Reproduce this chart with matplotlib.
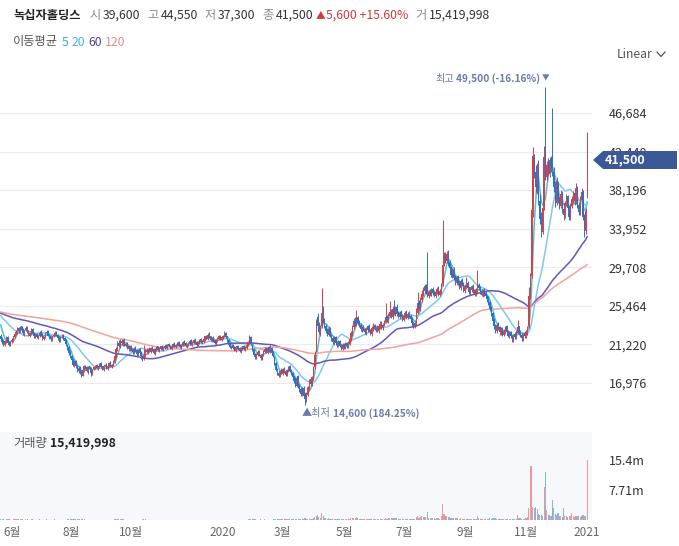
import numpy as np
import pandas as pd
import matplotlib
matplotlib.use('Agg')
import matplotlib.pyplot as plt
from matplotlib.patches import Polygon
from matplotlib.lines import Line2D

plt.rcParams['font.family'] = ['Noto Sans CJK KR', 'DejaVu Sans']

# ---------------- data (prices in units of 100 KRW) ----------------
# 120 closes before the visible window (only used for the moving averages)
pre_closes = [
    252, 255, 258, 254, 251, 249, 253, 256, 252, 248, 246, 250, 254, 257, 253, 249, 247, 251, 255, 252,
    249, 246, 243, 247, 251, 248, 245, 242, 246, 250, 253, 249, 246, 244, 248, 252, 255, 251, 247, 245,
    249, 253, 250, 246, 243, 247, 251, 254, 250, 246, 244, 248, 252, 249, 245, 242, 246, 250, 247, 244,
    248, 252, 255, 251, 247, 244, 248, 251, 254, 250, 246, 243, 247, 250, 253, 249, 245, 242, 246, 249,
    252, 248, 245, 249, 253, 250, 246, 243, 247, 251, 248, 244, 241, 245, 249, 252, 248, 245, 243, 247,
    250, 253, 249, 246, 248, 251, 247, 244, 246, 249, 252, 248, 245, 243, 246, 244, 241, 239, 236, 234,
]

opens = [
    222, 219, 216, 212, 215, 220, 215, 211, 216, 216, 220,
    225, 225, 230, 226, 232, 229, 224, 228, 231, 227, 222, 224, 229, 225, 220,
    224, 219, 221, 226, 224, 218, 220, 225, 227, 223, 221, 217, 222, 222, 226, 223, 220, 216, 221, 223, 219, 217,
    212, 209, 204, 200, 196, 189, 194, 189, 183, 187, 182,
    178, 183, 189, 187, 182, 188, 186,
    180, 185, 186, 190, 185, 187, 192, 188, 184, 189, 191, 185, 188, 193, 187, 189,
    193, 198, 206, 214, 210,
    216, 213, 217, 211, 214,
    210, 206, 211, 207, 203, 209, 206, 201, 207, 204,
    200, 196, 199,
    206, 203, 208, 204, 209, 207, 202, 206, 210, 205, 207, 211, 206,
    208, 212, 208, 213, 211, 207, 210, 214, 209, 211, 215, 212, 208, 211, 216, 214, 209, 211, 213, 217, 212, 214, 218, 215, 211, 214, 218,
    214, 215, 217, 222, 218, 224, 221, 216, 220, 217, 213, 216, 218, 222, 217, 219, 221, 225, 221,
    217, 213, 208, 212, 209, 205, 208, 211, 208, 204, 207, 211, 206, 208, 211,
    214, 220,
    212, 207, 202, 197, 201, 205, 201, 196, 200, 204, 208, 203,
    209, 204, 208, 204,
    198, 192, 185, 181, 177, 184, 180, 186, 183, 178, 183, 188, 184, 181, 177,
    174, 167, 177, 167, 163, 157, 164, 158,
    150, 157, 164, 174, 168, 175, 187,
    205, 242, 234, 225, 232,
    250, 239, 233, 228, 223, 230, 223, 219, 214, 220, 215,
    211, 216, 212, 207, 213, 208, 214, 209, 213,
    217, 224, 231, 239, 234, 242, 237, 234,
    228, 232, 229, 225, 228, 233, 228, 224, 229, 234, 228, 232, 227, 231, 236, 230,
    233, 237, 243, 238, 244, 249, 242, 252, 246, 253,
    247, 242, 248, 245, 239, 243, 248, 241, 247, 244, 241, 237,
    232, 235, 247, 259, 251, 261,
    267, 271, 277, 271, 265, 271, 267, 273, 270, 265, 269, 274, 267,
    270, 279,
    302, 311, 304, 313,
    303, 297, 288, 294, 286, 280,
    287, 281, 274, 283, 279, 271, 275, 280,
    275, 269, 272, 277, 272, 267, 271,
    278, 275, 271, 266, 272, 269, 266,
    263, 259, 252, 247, 239, 233, 227,
    235, 231, 225, 230, 223, 226, 232, 227, 221, 226, 222,
    217, 224, 219, 225, 232, 226, 223, 218, 225, 220, 225,
    232, 268, 288, 362,
    418, 402, 384, 406, 370, 352, 336,
    364, 428, 396, 411, 400, 416, 412,
    402, 386, 368,
    390, 373, 364, 379, 361, 354, 367, 375, 363, 351, 365,
    371, 379, 369, 385, 366, 357, 371,
    381, 353, 337,
    396,
]

highs = [
    224, 220, 218, 217, 221, 221, 216, 216, 219, 222, 226,
    228, 231, 231, 233, 233, 230, 228, 232, 232, 228, 226, 230, 230, 226, 225,
    225, 223, 227, 228, 225, 222, 226, 228, 228, 224, 222, 222, 225, 227, 227, 224, 221, 221, 224, 224, 220, 218,
    213, 210, 206, 201, 197, 195, 195, 190, 188, 188, 184,
    185, 190, 190, 188, 188, 189, 187,
    185, 189, 190, 191, 189, 192, 193, 189, 189, 191, 192, 190, 193, 194, 191, 195,
    200, 209, 216, 217, 218,
    218, 218, 219, 215, 215,
    211, 211, 212, 208, 209, 210, 207, 207, 208, 205,
    201, 212, 207,
    208, 208, 209, 209, 210, 208, 208, 211, 211, 209, 211, 212, 210,
    212, 213, 213, 214, 212, 212, 214, 215, 213, 215, 216, 213, 213, 216, 217, 215, 213, 215, 217, 218, 216, 218, 219, 216, 216, 218, 219,
    217, 219, 222, 223, 225, 226, 222, 220, 221, 218, 218, 220, 223, 223, 221, 223, 227, 226, 222,
    218, 214, 212, 213, 210, 210, 211, 212, 209, 209, 211, 212, 210, 213, 216,
    223, 221,
    213, 208, 203, 203, 206, 206, 202, 202, 206, 209, 209, 209,
    210, 212, 209, 205,
    199, 193, 186, 182, 184, 186, 186, 187, 184, 185, 189, 190, 185, 182, 178,
    176, 177, 179, 169, 165, 165, 166, 159,
    160, 167, 174, 175, 178, 188, 205,
    240, 247, 237, 234, 274,
    255, 241, 235, 230, 232, 231, 224, 221, 221, 221, 216,
    217, 217, 213, 214, 214, 215, 215, 216, 220,
    227, 234, 241, 242, 250, 244, 239, 236,
    233, 234, 230, 231, 234, 235, 229, 232, 236, 235, 233, 234, 233, 238, 238, 236,
    239, 258, 245, 247, 260, 251, 254, 261, 255, 257,
    249, 249, 250, 246, 245, 249, 250, 248, 249, 246, 242, 238,
    238, 252, 270, 261, 264, 272,
    275, 279, 279, 314, 272, 273, 274, 275, 272, 271, 275, 276, 273,
    280, 349,
    314, 314, 315, 316,
    305, 299, 296, 297, 289, 288,
    289, 283, 284, 285, 281, 278, 286, 282,
    277, 275, 278, 279, 273, 274, 294,
    280, 277, 273, 273, 274, 271, 267,
    265, 261, 254, 248, 241, 235, 236,
    237, 232, 231, 231, 229, 233, 234, 228, 227, 227, 223,
    224, 226, 228, 239, 233, 228, 225, 225, 227, 228, 232,
    275, 291, 372, 429,
    422, 410, 412, 415, 378, 358, 366,
    430, 495, 414, 417, 418, 420, 472,
    407, 392, 396,
    392, 376, 382, 381, 364, 370, 378, 377, 366, 368, 376,
    381, 382, 390, 387, 369, 375, 384,
    382, 356, 362,
    445.5,
]

lows = [
    217, 213, 211, 210, 214, 213, 210, 210, 214, 215, 219,
    223, 224, 225, 225, 227, 223, 222, 227, 225, 221, 220, 223, 223, 219, 219,
    219, 218, 220, 222, 217, 217, 219, 224, 221, 218, 216, 216, 220, 221, 221, 217, 215, 215, 219, 217, 215, 211,
    206, 201, 197, 193, 188, 187, 186, 182, 181, 180, 176,
    177, 182, 185, 182, 180, 184, 177,
    179, 184, 185, 185, 184, 186, 186, 184, 183, 188, 185, 184, 187, 187, 186, 188,
    192, 197, 205, 209, 208,
    212, 211, 211, 209, 207,
    205, 205, 205, 202, 202, 204, 200, 200, 202, 196,
    194, 195, 198,
    203, 202, 204, 203, 205, 202, 201, 205, 205, 204, 206, 206, 205,
    207, 208, 207, 209, 207, 206, 209, 209, 208, 210, 210, 208, 207, 210, 212, 209, 208, 210, 212, 212, 211, 213, 213, 211, 210, 213, 214,
    213, 214, 216, 218, 217, 219, 216, 215, 215, 213, 212, 215, 217, 217, 216, 218, 220, 219, 215,
    211, 208, 207, 207, 205, 204, 207, 206, 204, 203, 206, 206, 205, 207, 210,
    213, 212,
    205, 200, 196, 196, 200, 199, 195, 195, 199, 203, 203, 202,
    204, 203, 202, 198,
    190, 183, 179, 176, 176, 180, 179, 181, 178, 177, 182, 182, 179, 175, 170,
    165, 165, 164, 160, 155, 155, 153, 146,
    149, 155, 162, 167, 166, 173, 185,
    204, 230, 224, 222, 230,
    236, 230, 225, 221, 222, 220, 216, 213, 212, 212, 209,
    209, 209, 206, 206, 207, 207, 208, 208, 212,
    216, 222, 229, 233, 232, 234, 231, 227,
    226, 227, 224, 223, 226, 226, 223, 222, 227, 228, 226, 226, 225, 229, 229, 228,
    232, 236, 237, 236, 242, 241, 240, 245, 244, 244,
    241, 240, 242, 238, 238, 241, 240, 240, 241, 238, 233, 230,
    230, 234, 246, 250, 249, 259,
    265, 269, 268, 264, 263, 266, 265, 267, 264, 263, 268, 266, 265,
    268, 276,
    299, 302, 302, 299,
    292, 286, 285, 283, 278, 278,
    278, 273, 272, 276, 270, 269, 273, 272,
    268, 267, 270, 269, 265, 265, 269,
    272, 268, 265, 264, 266, 263, 259,
    256, 249, 243, 236, 229, 225, 225,
    228, 223, 223, 222, 221, 224, 224, 220, 219, 219, 215,
    215, 218, 218, 224, 223, 220, 216, 216, 219, 219, 223,
    230, 262, 285, 352,
    395, 380, 378, 366, 345, 330, 334,
    360, 393, 392, 398, 396, 402, 398,
    380, 363, 366,
    368, 361, 362, 357, 349, 351, 364, 358, 349, 349, 362,
    368, 366, 367, 362, 355, 355, 369,
    349, 330, 334,
    373,
]

closes = [
    218, 215, 213, 216, 219, 214, 212, 215, 217, 221, 224,
    226, 229, 227, 231, 228, 225, 227, 230, 226, 223, 225, 228, 224, 221, 223,
    220, 222, 225, 223, 219, 221, 224, 226, 222, 220, 218, 221, 223, 225, 222, 219, 217, 220, 222, 218, 216, 213,
    208, 203, 199, 195, 190, 193, 188, 184, 186, 181, 179,
    184, 188, 186, 183, 187, 185, 181,
    184, 187, 189, 186, 188, 191, 187, 185, 188, 190, 186, 189, 192, 188, 190, 193,
    199, 207, 213, 211, 215,
    214, 216, 212, 213, 209,
    207, 210, 206, 204, 208, 205, 202, 206, 203, 199,
    197, 201, 205,
    204, 207, 205, 208, 206, 203, 207, 209, 206, 208, 210, 207, 209,
    211, 209, 212, 210, 208, 211, 213, 210, 212, 214, 211, 209, 212, 215, 213, 210, 212, 214, 216, 213, 215, 217, 214, 212, 215, 217, 215,
    216, 218, 221, 219, 223, 220, 217, 219, 216, 214, 217, 219, 221, 218, 220, 222, 224, 220, 216,
    212, 209, 211, 208, 206, 209, 210, 207, 205, 208, 210, 207, 209, 212, 215,
    219, 213,
    206, 201, 198, 202, 204, 200, 197, 201, 205, 207, 204, 208,
    205, 207, 203, 199,
    191, 184, 180, 178, 183, 181, 185, 182, 179, 184, 187, 183, 180, 176, 172,
    168, 175, 166, 162, 158, 163, 156, 152,
    158, 165, 172, 169, 176, 186, 201,
    238, 233, 226, 231, 247,
    238, 232, 227, 224, 229, 222, 218, 215, 219, 214, 212,
    215, 211, 208, 212, 209, 213, 210, 214, 218,
    225, 232, 238, 235, 240, 236, 233, 229,
    231, 228, 226, 229, 232, 227, 225, 230, 233, 229, 231, 228, 232, 235, 231, 234,
    238, 242, 239, 245, 248, 243, 251, 247, 252, 246,
    243, 247, 244, 240, 244, 247, 242, 246, 243, 240, 236, 233,
    236, 248, 258, 252, 262, 268,
    272, 276, 270, 266, 270, 268, 272, 269, 266, 270, 273, 268, 271,
    278, 300,
    310, 305, 312, 302,
    296, 289, 293, 285, 281, 286,
    280, 275, 282, 278, 272, 276, 279, 274,
    270, 273, 276, 271, 268, 272, 277,
    274, 270, 267, 271, 268, 265, 262,
    258, 251, 246, 238, 232, 228, 234,
    230, 226, 229, 224, 227, 231, 226, 222, 225, 221, 218,
    223, 220, 226, 231, 225, 222, 219, 224, 221, 226, 229,
    265, 285, 360, 420,
    400, 385, 405, 372, 350, 338, 362,
    418, 398, 410, 402, 415, 408, 404,
    385, 370, 392,
    372, 365, 378, 360, 355, 368, 374, 362, 352, 366, 372,
    378, 370, 384, 365, 358, 372, 380,
    352, 338, 359,
    415,
]

# volume in thousands of shares
volumes = [
    180, 150, 160, 120, 140, 170, 130, 110, 120, 150, 190,
    210, 230, 160, 250, 170, 140, 120, 160, 140, 120, 110, 150, 130, 120, 100,
    110, 100, 130, 120, 110, 90, 110, 130, 120, 100, 90, 100, 110, 130, 110, 90, 100, 90, 100, 110, 90, 120,
    160, 190, 170, 210, 230, 180, 160, 190, 150, 170, 180,
    150, 140, 110, 100, 120, 100, 110,
    100, 90, 100, 80, 90, 110, 90, 80, 90, 100, 80, 90, 110, 90, 80, 100,
    210, 280, 260, 170, 150,
    140, 130, 120, 110, 120,
    100, 110, 90, 100, 90, 80, 100, 90, 100, 110,
    130, 190, 150,
    100, 90, 80, 90, 80, 90, 80, 100, 90, 80, 90, 100, 80,
    90, 80, 90, 80, 70, 80, 90, 80, 70, 90, 80, 70, 80, 90, 80, 70, 80, 90, 80, 70, 80, 90, 80, 70, 80, 90, 80,
    80, 90, 100, 90, 110, 90, 80, 90, 80, 90, 80, 90, 100, 80, 90, 100, 120, 100, 110,
    120, 110, 90, 100, 110, 90, 80, 90, 100, 80, 90, 80, 90, 100, 130,
    220, 180,
    150, 140, 130, 120, 110, 120, 130, 110, 120, 130, 110, 120,
    110, 100, 120, 130,
    180, 220, 190, 170, 160, 150, 170, 140, 160, 150, 170, 150, 160, 190, 210,
    280, 260, 300, 270, 320, 290, 350, 420,
    380, 330, 360, 300, 340, 420, 650,
    900, 1300, 700, 500, 1800,
    900, 600, 450, 380, 400, 350, 320, 300, 310, 290, 280,
    260, 270, 250, 260, 240, 270, 250, 260, 320,
    450, 520, 600, 420, 650, 400, 350, 330,
    300, 280, 260, 270, 290, 270, 250, 280, 300, 270, 260, 250, 280, 300, 270, 260,
    330, 550, 380, 400, 600, 420, 450, 500, 420, 450,
    380, 350, 360, 330, 340, 350, 330, 300, 320, 300, 310, 330,
    350, 700, 1000, 600, 800, 900,
    800, 700, 650, 2000, 600, 500, 450, 420, 400, 380, 420, 400, 380,
    900, 4200,
    1500, 1000, 900, 800,
    700, 600, 500, 550, 450, 420,
    400, 380, 420, 360, 350, 340, 380, 330,
    320, 300, 330, 310, 290, 300, 900,
    400, 330, 300, 290, 280, 270, 300,
    350, 400, 380, 420, 450, 400, 380,
    350, 320, 300, 310, 290, 300, 280, 270, 290, 280, 320,
    300, 280, 350, 1300, 600, 400, 350, 320, 330, 400, 700,
    3000, 13900, 13800, 3300,
    3100, 3400, 2800, 1500, 1200, 1300, 1100,
    8400, 12300, 2500, 1400, 1300, 1100, 5200,
    3100, 1500, 1200,
    1800, 900, 1000, 800, 3000, 900, 1100, 800, 1000, 900, 1800,
    1000, 800, 1100, 1000, 900, 800, 1000,
    1200, 900, 1000,
    15420,
]

price_ticks = [16976, 21220, 25464, 29708, 33952, 38196, 42440, 46684]
vol_ticks = [7.71e6, 15.42e6]
vol_tick_labels = ['7.71m', '15.4m']
month_labels = ['6월', '8월', '10월', '2020', '3월', '5월', '7월', '9월', '11월', '2021']
month_starts = ['2019-06-01', '2019-08-01', '2019-10-01', '2020-01-01', '2020-03-01',
                '2020-05-01', '2020-07-01', '2020-09-01', '2020-11-01', '2021-01-01']
ma_periods = [5, 20, 60, 120]
header_items = [('시', '39,600'), ('고', '44,550'), ('저', '37,300'), ('종', '41,500')]

# ---------------- prepare ----------------
O = np.array(opens, float) * 100
Hh = np.array(highs, float) * 100
Lw = np.array(lows, float) * 100
C = np.array(closes, float) * 100
V = np.array(volumes, float) * 1000
N = len(C)
dates = pd.bdate_range('2019-05-22', '2020-12-31').append(pd.DatetimeIndex(['2021-01-04']))
dates = dates[:N]
xs = np.arange(N)

RED = '#d3404a'
BLUE = '#2574c8'
VRED = '#e79a9c'
VBLUE = '#86b6dc'
ma_colors = ['#4cc3cc', '#7ec9ec', '#6257bd', '#f0a49c']
lab_colors = ['#3bb2b8', '#4fb0dc', '#4a4796', '#e88a8a']

W, Hpx = 679, 546
fig = plt.figure(figsize=(W / 100, Hpx / 100), dpi=100)
fig.patch.set_facecolor('white')
renderer = fig.canvas.get_renderer()


def fy(y):
    return 1 - y / Hpx


def put(x, y, text, **kw):
    """place a text at pixel x (left) and return the pixel x of its right edge"""
    t = fig.text(x / W, fy(y), text, va='center', **kw)
    return x + t.get_window_extent(renderer=renderer).width


ax = fig.add_axes([0, fy(425), 592 / W, (425 - 65) / Hpx])
axv = fig.add_axes([0, fy(520), 592 / W, (520 - 432) / Hpx])

# ---------------- price panel ----------------
up = C >= O
cols = np.where(up, RED, BLUE)
ax.vlines(xs, Lw, Hh, colors=cols, linewidth=0.7, zorder=3)
body_h = np.maximum(np.abs(C - O), 40)
ax.bar(xs, body_h, bottom=np.minimum(O, C), width=0.85, color=cols, linewidth=0, zorder=3)

full = np.concatenate([np.array(pre_closes, float) * 100, C])
for p, c in zip(ma_periods, ma_colors):
    ma = pd.Series(full).rolling(p).mean().values[len(pre_closes):]
    ax.plot(xs, ma, color=c, lw=1.1, zorder=2)

ax.set_xlim(-0.5, 425.5)
ax.set_ylim(12360, 51960)
ax.set_yticks(price_ticks)
ax.set_yticklabels([f'{t:,}' for t in price_ticks])
ax.yaxis.tick_right()
ax.tick_params(axis='y', length=0, pad=12, labelsize=9, labelcolor='#333333')
ax.tick_params(axis='x', length=0, labelbottom=False)
ax.grid(axis='y', color='#ececec', lw=0.8, zorder=0)
for s in ax.spines.values():
    s.set_visible(False)

# highest / lowest annotations
ih = int(np.argmax(Hh))
il = int(np.argmin(Lw))
ann_col = '#6a7cab'
ax.annotate('▼', xy=(ih, Hh[ih]), xytext=(0, 5), textcoords='offset pixels',
            ha='center', va='bottom', fontsize=5.5, color=ann_col)
tb = ax.annotate(f'{int(Hh[ih]):,} ({(C[-1] / Hh[ih] - 1) * 100:.2f}%)', xy=(ih, Hh[ih]),
                 xytext=(-5, 3), textcoords='offset pixels', ha='right', va='bottom',
                 fontsize=7.3, color=ann_col, fontweight='bold')
wb = tb.get_window_extent(renderer=renderer).width
ax.annotate('최고', xy=(ih, Hh[ih]), xytext=(-5 - wb - 2, 3), textcoords='offset pixels',
            ha='right', va='bottom', fontsize=7.3, color=ann_col)

t1 = ax.annotate('▲최저', xy=(il, Lw[il]), xytext=(-3, -3), textcoords='offset pixels',
                 ha='left', va='top', fontsize=7.3, color=ann_col)
w1 = t1.get_window_extent(renderer=renderer).width
ax.annotate(f'{int(Lw[il]):,} ({(C[-1] / Lw[il] - 1) * 100:.2f}%)', xy=(il, Lw[il]),
            xytext=(-3 + w1 + 2, -3), textcoords='offset pixels', ha='left', va='top',
            fontsize=7.3, color=ann_col, fontweight='bold')

# ---------------- volume panel ----------------
axv.set_facecolor('#f6f8fc')
vcols = np.where(up, VRED, VBLUE)
axv.bar(xs, V, width=0.8, color=vcols, linewidth=0)
axv.set_xlim(-0.5, 425.5)
axv.set_ylim(0, 22.6e6)
axv.set_yticks(vol_ticks)
axv.set_yticklabels(vol_tick_labels)
axv.yaxis.tick_right()
axv.tick_params(axis='y', length=0, pad=12, labelsize=9, labelcolor='#333333')
tick_pos = [int(np.searchsorted(dates, pd.Timestamp(m))) for m in month_starts]
axv.set_xticks(tick_pos)
axv.set_xticklabels(month_labels)
axv.tick_params(axis='x', length=0, pad=4, labelsize=8.5, labelcolor='#666666')
for s in axv.spines.values():
    s.set_visible(False)

# ---------------- header texts ----------------
hy = 15
x = put(13, hy, '녹십자홀딩스', fontsize=8.8, fontweight='bold', color='#222222')
x += 9
for lab, val in header_items:
    x = put(x, hy, lab, fontsize=8.8, color='#8a8a8a') + 2
    x = put(x, hy, val, fontsize=8.8, color='#333333') + 7
x -= 5
x = put(x, hy, '▲', fontsize=7, color='#d2393e') + 1
x = put(x, hy, '5,600 +15.60%', fontsize=8.8, color='#d2393e') + 7
x = put(x, hy, '거', fontsize=8.8, color='#8a8a8a') + 2
put(x, hy, '15,419,998', fontsize=8.8, color='#333333')

my = 42
x = put(13, my, '이동평균', fontsize=8.8, color='#555555') + 4
for t, c in zip(['5', '20', '60', '120'], lab_colors):
    x = put(x, my, t, fontsize=8.8, color=c) + 3

put(617, 55, 'Linear', fontsize=8.8, color='#555555')
fig.add_artist(Line2D([657 / W, 661 / W, 665 / W], [fy(52), fy(56.5), fy(52)],
                      color='#555555', lw=0.9))

x = put(13, 443, '거래량', fontsize=8.8, color='#555555') + 3
put(x, 443, '15,419,998', fontsize=8.8, color='#222222', fontweight='bold')

# current price tag
tag = Polygon([[593 / W, fy(160)], [603 / W, fy(151)], [677 / W, fy(151)],
               [677 / W, fy(169)], [603 / W, fy(169)]], closed=True,
              transform=fig.transFigure, facecolor='#3c5896', edgecolor='none', zorder=10)
fig.add_artist(tag)
fig.text(605 / W, fy(160), f'{int(C[-1]):,}', fontsize=9, color='white', fontweight='bold',
         va='center', zorder=11)

fig.savefig('out.png', dpi=100, facecolor='white')
